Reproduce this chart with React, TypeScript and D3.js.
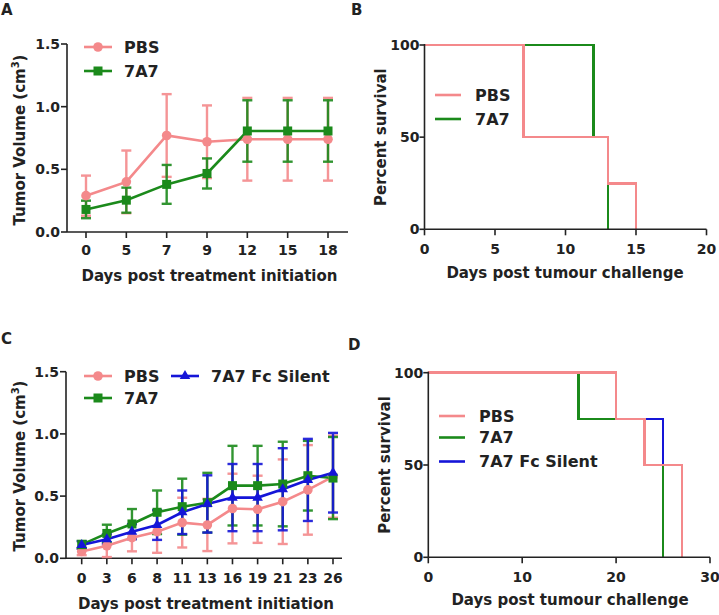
import React from "react";
import * as d3 from "d3";

const FONT = "'DejaVu Sans', 'Liberation Sans', Arial, sans-serif";
const INK = "#222";
const PINK = "#F4898B";
const GREEN = "#1B8A1B";
const BLUE = "#1515D8";

// Panel A
const catsA = ["0", "5", "7", "9", "12", "15", "18"];
const pbsA = [0.29, 0.40, 0.77, 0.72, 0.74, 0.74, 0.74];
const pbsAErr = [0.16, 0.25, 0.33, 0.29, 0.33, 0.33, 0.33];
const a7A = [0.18, 0.254, 0.38, 0.467, 0.806, 0.806, 0.806];
const a7AErr = [0.07, 0.10, 0.155, 0.12, 0.245, 0.245, 0.245];

// Panel C
const catsC = ["0", "3", "6", "8", "11", "13", "16", "19", "21", "23", "26"];
const pbsC = [0.055, 0.10, 0.166, 0.214, 0.287, 0.268, 0.40, 0.394, 0.455, 0.55, 0.656];
const pbsCErr = [0.03, 0.09, 0.11, 0.17, 0.2, 0.21, 0.28, 0.27, 0.34, 0.36, 0.33];
const a7C = [0.11, 0.20, 0.276, 0.37, 0.415, 0.447, 0.584, 0.584, 0.597, 0.664, 0.645];
const a7CErr = [0.03, 0.07, 0.12, 0.175, 0.225, 0.24, 0.32, 0.32, 0.34, 0.28, 0.33];
const fcC = [0.107, 0.153, 0.214, 0.268, 0.37, 0.437, 0.488, 0.488, 0.555, 0.63, 0.688];
const fcCErr = [0.03, 0.04, 0.06, 0.12, 0.175, 0.23, 0.27, 0.27, 0.33, 0.33, 0.32];

const volTicks = [0, 0.5, 1.0, 1.5];

// Panel B survival (step points: time, percent)
const pbsBTime = [0, 7, 13, 15];
const pbsBSurv = [100, 50, 25, 0];
const a7BTime = [0, 12, 13];
const a7BSurv = [100, 50, 0];
const bXTicks = [0, 5, 10, 15, 20];

// Panel D survival
const pbsDTime = [0, 20, 23, 27];
const pbsDSurv = [100, 75, 50, 0];
const a7DTime = [0, 16, 25];
const a7DSurv = [100, 75, 0];
const fcDTime = [0, 20, 25, 27];
const fcDSurv = [100, 75, 50, 0];
const dXTicks = [0, 10, 20, 30];
const survTicks = [0, 50, 100];

type Series = { name: string; color: string; values: number[]; err: number[]; marker: string };

function Marker({ kind, x, y, color }: { kind: string; x: number; y: number; color: string }) {
  if (kind === "circle") return <circle cx={x} cy={y} r={4.8} fill={color} />;
  if (kind === "square") return <rect x={x - 4.5} y={y - 4.5} width={9} height={9} fill={color} />;
  const s = d3.symbol().type(d3.symbolTriangle).size(48)();
  return <path d={s || ""} transform={`translate(${x},${y})`} fill={color} />;
}

function LinePanel(props: {
  cats: string[]; series: Series[]; axisX: number; axisEnd: number; firstX: number; lastX: number;
  yBottom: number; yTop: number; letter: string; letterX: number; letterY: number;
  legend: { name: string; x: number; y: number }[]; xTitleY: number; xTickY: number; yTitleX: number; yTitleDy: number;
}) {
  const { cats, series, axisX, axisEnd, firstX, lastX, yBottom, yTop } = props;
  const x = d3.scalePoint<string>().domain(cats).range([firstX, lastX]);
  const y = d3.scaleLinear().domain([0, 1.5]).range([yBottom, yTop]);
  const line = d3.line<number>().x((_, i) => x(cats[i]) as number).y((d) => y(d));
  const cap = 5;
  return (
    <g>
      <text x={props.letterX} y={props.letterY} fontFamily={FONT} fontWeight="bold" fontSize={15} fill={INK}>{props.letter}</text>
      <line x1={axisX} x2={axisX} y1={yTop} y2={yBottom} stroke={INK} strokeWidth={1.6} />
      <line x1={axisX} x2={axisEnd} y1={yBottom} y2={yBottom} stroke={INK} strokeWidth={1.6} />
      {volTicks.map((t) => (
        <g key={t}>
          <line x1={axisX - 6} x2={axisX} y1={y(t)} y2={y(t)} stroke={INK} strokeWidth={1.6} />
          <text x={axisX - 7} y={y(t)} dy="0.36em" textAnchor="end" fontFamily={FONT} fontWeight="bold" fontSize={14} fill={INK}>{t.toFixed(1)}</text>
        </g>
      ))}
      {cats.map((c) => (
        <g key={c}>
          <line x1={x(c)} x2={x(c)} y1={yBottom} y2={yBottom + 6} stroke={INK} strokeWidth={1.6} />
          <text x={x(c)} y={props.xTickY} textAnchor="middle" fontFamily={FONT} fontWeight="bold" fontSize={14} fill={INK}>{c}</text>
        </g>
      ))}
      <text x={(axisX + axisEnd) / 2 + 2} y={props.xTitleY} textAnchor="middle" fontFamily={FONT} fontWeight="bold" fontSize={15} fill={INK}>Days post treatment initiation</text>
      <text transform={`translate(${props.yTitleX},${(yTop + yBottom) / 2 + props.yTitleDy}) rotate(-90)`} textAnchor="middle" fontFamily={FONT} fontWeight="bold" fontSize={15} fill={INK}>
        Tumor Volume (cm<tspan fontSize={10} dy={-6}>3</tspan><tspan dy={6}>)</tspan>
      </text>
      {series.map((s) => (
        <g key={s.name + "e"} stroke={s.color} strokeWidth={2.4} opacity={0.9}>
          {s.values.map((v, i) => {
            const cx = x(cats[i]) as number;
            return (
              <g key={i}>
                <line x1={cx} x2={cx} y1={y(v - s.err[i])} y2={y(v + s.err[i])} />
                <line x1={cx - cap} x2={cx + cap} y1={y(v + s.err[i])} y2={y(v + s.err[i])} />
                <line x1={cx - cap} x2={cx + cap} y1={y(v - s.err[i])} y2={y(v - s.err[i])} />
              </g>
            );
          })}
        </g>
      ))}
      {series.map((s) => (
        <path key={s.name + "l"} d={line(s.values) || ""} fill="none" stroke={s.color} strokeWidth={2.6} />
      ))}
      {series.map((s) => (
        <g key={s.name + "m"}>
          {s.values.map((v, i) => <Marker key={i} kind={s.marker} x={x(cats[i]) as number} y={y(v)} color={s.color} />)}
        </g>
      ))}
      {props.legend.map((l) => {
        const s = series.find((q) => q.name === l.name)!;
        return (
          <g key={l.name}>
            <line x1={l.x} x2={l.x + 28} y1={l.y} y2={l.y} stroke={s.color} strokeWidth={2.6} />
            <Marker kind={s.marker} x={l.x + 14} y={l.y} color={s.color} />
            <text x={l.x + 40} y={l.y} dy="0.36em" fontFamily={FONT} fontWeight="bold" fontSize={16} fill={INK}>{l.name}</text>
          </g>
        );
      })}
    </g>
  );
}

type Surv = { name: string; color: string; t: number[]; s: number[] };

function SurvPanel(props: {
  curves: Surv[]; drawOrder: string[]; xMax: number; xTicks: number[]; axisX: number; axisEnd: number;
  yBottom: number; yTop: number; letter: string; letterX: number; letterY: number;
  legendX: number; legendY: number[]; xTickY: number; xTitleY: number; yTitleX: number; xTitleX: number;
}) {
  const { axisX, axisEnd, yBottom, yTop } = props;
  const x = d3.scaleLinear().domain([0, props.xMax]).range([axisX, axisEnd]);
  const y = d3.scaleLinear().domain([0, 100]).range([yBottom, yTop]);
  const line = d3.line<[number, number]>().x((d) => x(d[0])).y((d) => y(d[1])).curve(d3.curveStepAfter);
  return (
    <g>
      <text x={props.letterX} y={props.letterY} fontFamily={FONT} fontWeight="bold" fontSize={15} fill={INK}>{props.letter}</text>
      {props.drawOrder.map((n) => {
        const c = props.curves.find((q) => q.name === n)!;
        const pts = c.t.map((t, i) => [t, c.s[i]] as [number, number]);
        return <path key={n} d={line(pts) || ""} fill="none" stroke={c.color} strokeWidth={2.6} shapeRendering="crispEdges" />;
      })}
      <line x1={axisX} x2={axisX} y1={yTop - 1} y2={yBottom} stroke={INK} strokeWidth={1.6} />
      <line x1={axisX} x2={axisEnd} y1={yBottom} y2={yBottom} stroke={INK} strokeWidth={1.6} />
      {survTicks.map((t) => (
        <g key={t}>
          <line x1={axisX - 5} x2={axisX} y1={y(t)} y2={y(t)} stroke={INK} strokeWidth={1.6} />
          <text x={axisX - 5} y={y(t)} dy="0.36em" textAnchor="end" fontFamily={FONT} fontWeight="bold" fontSize={14} fill={INK}>{t}</text>
        </g>
      ))}
      {props.xTicks.map((t) => (
        <g key={t}>
          <line x1={x(t)} x2={x(t)} y1={yBottom} y2={yBottom + 6} stroke={INK} strokeWidth={1.6} />
          <text x={x(t)} y={props.xTickY} textAnchor="middle" fontFamily={FONT} fontWeight="bold" fontSize={14} fill={INK}>{t}</text>
        </g>
      ))}
      <text x={props.xTitleX} y={props.xTitleY} textAnchor="middle" fontFamily={FONT} fontWeight="bold" fontSize={15} fill={INK}>Days post tumour challenge</text>
      <text transform={`translate(${props.yTitleX},${(yTop + yBottom) / 2}) rotate(-90)`} textAnchor="middle" fontFamily={FONT} fontWeight="bold" fontSize={15} fill={INK}>Percent survival</text>
      {props.curves.map((c, i) => (
        <g key={c.name}>
          <line x1={props.legendX} x2={props.legendX + 26} y1={props.legendY[i]} y2={props.legendY[i]} stroke={c.color} strokeWidth={2.6} />
          <text x={props.legendX + 40} y={props.legendY[i]} dy="0.36em" fontFamily={FONT} fontWeight="bold" fontSize={16} fill={INK}>{c.name}</text>
        </g>
      ))}
    </g>
  );
}

export default function App() {
  const seriesA: Series[] = [
    { name: "PBS", color: PINK, values: pbsA, err: pbsAErr, marker: "circle" },
    { name: "7A7", color: GREEN, values: a7A, err: a7AErr, marker: "square" },
  ];
  const seriesC: Series[] = [
    { name: "PBS", color: PINK, values: pbsC, err: pbsCErr, marker: "circle" },
    { name: "7A7", color: GREEN, values: a7C, err: a7CErr, marker: "square" },
    { name: "7A7 Fc Silent", color: BLUE, values: fcC, err: fcCErr, marker: "triangle" },
  ];
  const curvesB: Surv[] = [
    { name: "PBS", color: PINK, t: pbsBTime, s: pbsBSurv },
    { name: "7A7", color: GREEN, t: a7BTime, s: a7BSurv },
  ];
  const curvesD: Surv[] = [
    { name: "PBS", color: PINK, t: pbsDTime, s: pbsDSurv },
    { name: "7A7", color: GREEN, t: a7DTime, s: a7DSurv },
    { name: "7A7 Fc Silent", color: BLUE, t: fcDTime, s: fcDSurv },
  ];
  return (
    <svg width={719} height={615} style={{ position: "absolute", left: 0, top: 0, background: "#fff" }}>
      <rect width={719} height={615} fill="#fff" />
      <LinePanel cats={catsA} series={seriesA} axisX={67} axisEnd={348} firstX={86} lastX={328}
        yBottom={232} yTop={44} letter="A" letterX={1} letterY={15}
        legend={[{ name: "PBS", x: 84, y: 47 }, { name: "7A7", x: 84, y: 71 }]}
        xTitleY={281} xTickY={255} yTitleX={25} yTitleDy={2} />
      <SurvPanel curves={curvesB} drawOrder={["7A7", "PBS"]} xMax={20} xTicks={bXTicks} axisX={424.5} axisEnd={706.5}
        yBottom={229.3} yTop={45} letter="B" letterX={351} letterY={15}
        legendX={435} legendY={[95, 119]} xTickY={254} xTitleY={278} yTitleX={386} xTitleX={565} />
      <LinePanel cats={catsC} series={seriesC} axisX={66} axisEnd={342} firstX={81.7} lastX={333}
        yBottom={558.3} yTop={371.7} letter="C" letterX={1} letterY={344}
        legend={[{ name: "PBS", x: 84, y: 376 }, { name: "7A7", x: 84, y: 398 }, { name: "7A7 Fc Silent", x: 171, y: 376 }]}
        xTitleY={609} xTickY={583} yTitleX={25} yTitleDy={1} />
      <SurvPanel curves={curvesD} drawOrder={["7A7", "7A7 Fc Silent", "PBS"]} xMax={30} xTicks={dXTicks} axisX={428.3} axisEnd={710}
        yBottom={557.3} yTop={372.7} letter="D" letterX={348} letterY={350}
        legendX={439} legendY={[416, 437.5, 461.5]} xTickY={582} xTitleY={605} yTitleX={390} xTitleX={570} />
    </svg>
  );
}
